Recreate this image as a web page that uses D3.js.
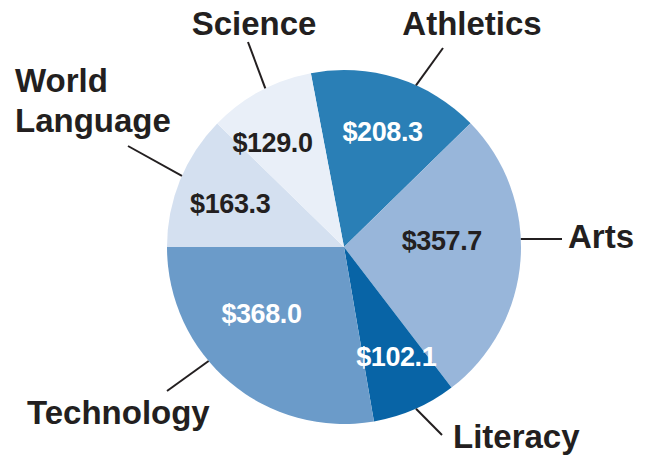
<!DOCTYPE html>
<html lang="en">
<head>
    <meta charset="UTF-8">
    <title>Budget pie</title>
    <script src="https://d3js.org/d3.v7.min.js"></script>
    <style>
        body { margin: 0; background: #fff; }
        text { font-family: "Liberation Sans", Arial, sans-serif; font-weight: bold; }
    </style>
</head>
<body>
<script type="text/javascript">
    // data, clockwise from the top
    var categories = ["Athletics", "Arts", "Literacy", "Technology", "World Language", "Science"];
    var amounts = [208.3, 357.7, 102.1, 368.0, 163.3, 129.0];
    var valueLabels = ["$208.3", "$357.7", "$102.1", "$368.0", "$163.3", "$129.0"];

    var svgWidth = 651;
    var svgHeight = 457;
    var cx = 344, cy = 247, radius = 177;
    var startAngle = -10.8 * Math.PI / 180;

    var fills = {
        "Athletics": "#2a7fb6",
        "Arts": "#98b6da",
        "Literacy": "#0864a6",
        "Technology": "#6b9bc9",
        "World Language": "#d4e0f0",
        "Science": "#e9eff8"
    };
    var valueColor = {
        "Athletics": "#fff", "Arts": "#231f20", "Literacy": "#fff",
        "Technology": "#fff", "World Language": "#231f20", "Science": "#231f20"
    };
    // where each value label sits (radius from centre, angle offset in degrees)
    var valueNudge = {
        "Athletics": [122, 1], "Arts": [98, -8], "Literacy": [121, -2],
        "Technology": [106, 11], "World Language": [122, -1], "Science": [127, -6]
    };
    // leader line: angle on the rim, outer end, label anchor
    var callouts = {
        "Athletics": {a: 24, end: [443, 48], lines: ["Athletics"], x: 472, y: 35, anchor: "middle"},
        "Arts": {a: 87.4, end: [562, 239], lines: ["Arts"], x: 568, y: 248, anchor: "start"},
        "Literacy": {a: 156, end: [442, 435], lines: ["Literacy"], x: 453, y: 448, anchor: "start"},
        "Technology": {a: 229.9, end: [167, 391], lines: ["Technology"], x: 27, y: 424, anchor: "start"},
        "World Language": {a: 293.7, end: [128, 146], lines: ["World", "Language"], x: 15, y: 92, anchor: "start"},
        "Science": {a: -26.4, end: [248, 42], lines: ["Science"], x: 254, y: 35, anchor: "middle"}
    };

    var data = categories.map(function (c, i) {
        return {name: c, value: amounts[i], label: valueLabels[i]};
    });

    var pie = d3.pie()
        .sort(null)
        .value(function (d) { return d.value; })
        .startAngle(startAngle)
        .endAngle(startAngle + 2 * Math.PI);

    var arc = d3.arc().innerRadius(0).outerRadius(radius);

    var svg = d3.select("body").append("svg")
        .attr("width", svgWidth)
        .attr("height", svgHeight);

    var g = svg.append("g")
        .attr("transform", "translate(" + cx + "," + cy + ")");

    var arcs = pie(data);

    g.selectAll("path.slice")
        .data(arcs)
        .enter()
        .append("path")
        .attr("class", "slice")
        .attr("d", arc)
        .attr("fill", function (d) { return fills[d.data.name]; });

    // value labels
    g.selectAll("text.value")
        .data(arcs)
        .enter()
        .append("text")
        .attr("class", "value")
        .attr("transform", function (d) {
            var n = valueNudge[d.data.name];
            var mid = (d.startAngle + d.endAngle) / 2 + n[1] * Math.PI / 180;
            return "translate(" + (n[0] * Math.sin(mid)) + "," + (-n[0] * Math.cos(mid)) + ")";
        })
        .attr("dy", "0.36em")
        .attr("text-anchor", "middle")
        .attr("font-size", "27px")
        .attr("letter-spacing", "-0.4px")
        .attr("fill", function (d) { return valueColor[d.data.name]; })
        .text(function (d) { return d.data.label; });

    // leader lines
    svg.selectAll("line.leader")
        .data(arcs)
        .enter()
        .append("line")
        .attr("class", "leader")
        .attr("x1", function (d) { return cx + radius * Math.sin(callouts[d.data.name].a * Math.PI / 180); })
        .attr("y1", function (d) { return cy - radius * Math.cos(callouts[d.data.name].a * Math.PI / 180); })
        .attr("x2", function (d) { return callouts[d.data.name].end[0]; })
        .attr("y2", function (d) { return callouts[d.data.name].end[1]; })
        .attr("stroke", "#231f20")
        .attr("stroke-width", 2);

    // category labels
    var cat = svg.selectAll("text.cat")
        .data(arcs)
        .enter()
        .append("text")
        .attr("class", "cat")
        .attr("x", function (d) { return callouts[d.data.name].x; })
        .attr("y", function (d) { return callouts[d.data.name].y; })
        .attr("text-anchor", function (d) { return callouts[d.data.name].anchor; })
        .attr("font-size", "33px")
        .attr("fill", "#231f20");

    cat.selectAll("tspan")
        .data(function (d) { return callouts[d.data.name].lines.map(function (t) { return {t: t, x: callouts[d.data.name].x}; }); })
        .enter()
        .append("tspan")
        .attr("x", function (d) { return d.x; })
        .attr("dy", function (d, i) { return i === 0 ? 0 : 40; })
        .text(function (d) { return d.t; });
</script>
</body>
</html>
